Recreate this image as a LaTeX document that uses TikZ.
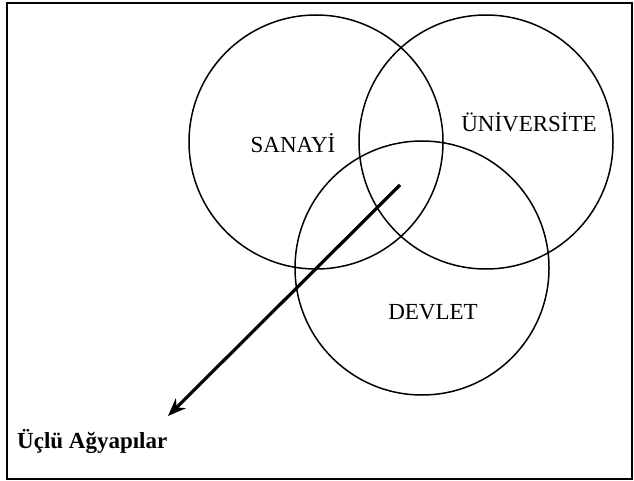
\documentclass[tikz,border=0pt]{standalone}
\usepackage{fontspec}
\setmainfont{Liberation Serif}
\usetikzlibrary{arrows.meta}
\tikzset{
  set/.style={draw, circle, line width=1.5pt, minimum size=254pt, inner sep=0pt},
  lbl/.style={font=\fontsize{23}{27}\selectfont, inner sep=0pt}
}
\begin{document}
\begin{tikzpicture}[x=1pt, y=-1pt]
  \useasboundingbox (0,0) rectangle (634,481);
  \draw[line width=1.8pt] (7.3,3.3) rectangle (632,479.3);
  \node (S) [set] at (316,142) {};
  \node (U) [set] at (486,142) {};
  \node (D) [set] at (422,268) {};
  \node (s) [lbl] at (293,143) {SANAY\.I};
  \node (u) [lbl] at (529,122) {\"UN\.IVERS\.ITE};
  \node (d) [lbl] at (433,312) {DEVLET};
  \node (L) [lbl, font=\fontsize{23}{27}\selectfont\bfseries, anchor=west] at (17,441) {Üçlü Ağyapılar};
  \coordinate (m) at (400,185);
  \coordinate (t) at (168,416);
  \draw[-{Stealth[length=18pt, width=14pt]}, line width=3.2pt] (m) -- (t);
\end{tikzpicture}
\end{document}
